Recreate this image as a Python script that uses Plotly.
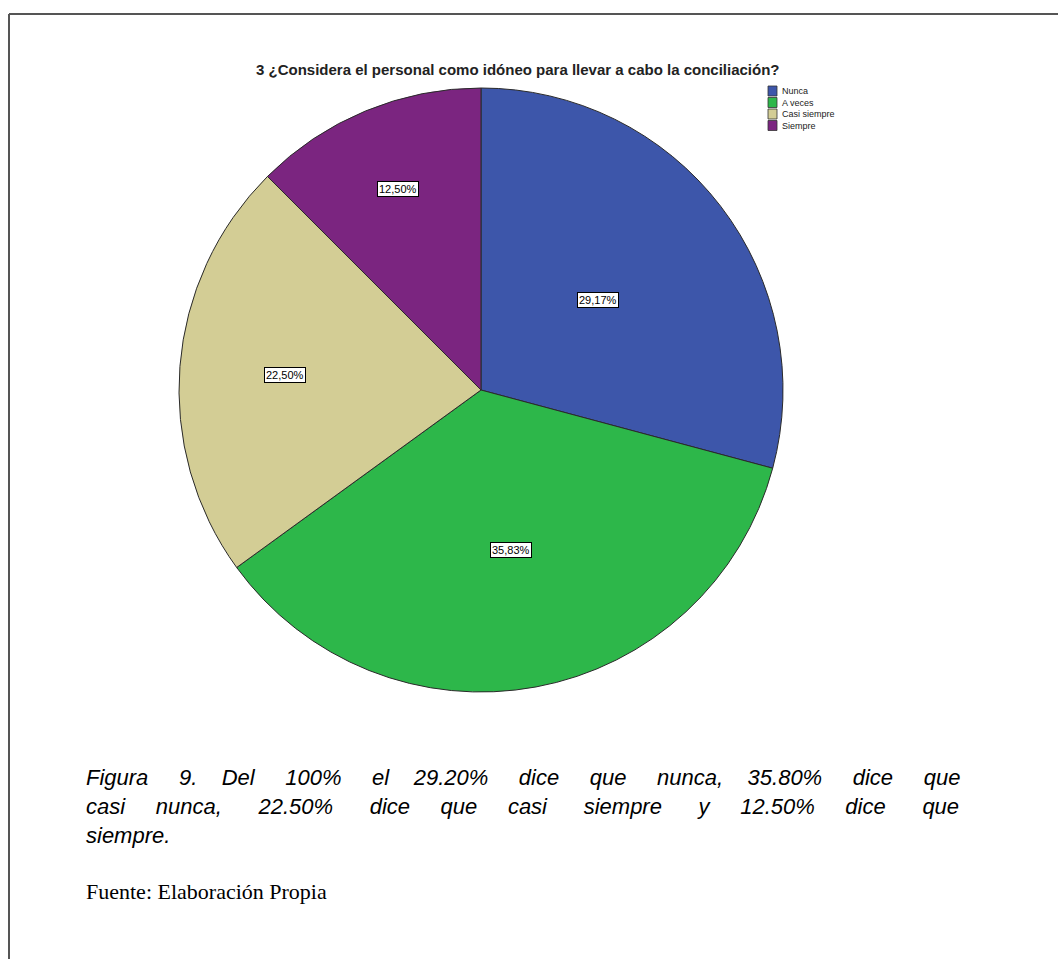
import math
import plotly.graph_objects as go

categories = ["Nunca", "A veces", "Casi siempre", "Siempre"]
percentages = [29.17, 35.83, 22.50, 12.50]
label_texts = ["29,17%", "35,83%", "22,50%", "12,50%"]
colors = ["#3D56AA", "#2DB74A", "#D3CD95", "#7B2580"]

title_text = "3 ¿Considera el personal como idóneo para llevar a cabo la conciliación?"
caption_lines = [
    "Figura 9. Del 100% el 29.20% dice que nunca, 35.80% dice que",
    "casi nunca, 22.50% dice que casi siempre y 12.50% dice que",
    "siempre.",
]
source_text = "Fuente: Elaboración Propia"

W, H = 1058, 959
cx, cy, r = 481, 390, 302
label_radius_factor = [0.49, 0.54, 0.65, 0.72]
# extra non-breaking spaces per gap to mimic justified text
justify_extra = [3.7, 4.5, 0]


def justify(line, extra):
    words = line.split(" ")
    if extra == 0 or len(words) < 2:
        return line
    out = words[0]
    acc = 0.0
    for i, w in enumerate(words[1:], start=1):
        target = round(extra * i)
        n = target - round(acc)
        acc = extra * i
        out += " " + "&nbsp;" * n + w
    return out


fig = go.Figure()
fig.add_trace(go.Pie(
    labels=categories,
    values=percentages,
    sort=False,
    direction="clockwise",
    rotation=0,
    marker=dict(colors=colors, line=dict(color="#2a2a2a", width=1)),
    textinfo="none",
    hoverinfo="label+percent",
    domain=dict(x=[(cx - r) / W, (cx + r) / W], y=[1 - (cy + r) / H, 1 - (cy - r) / H]),
    showlegend=False,
))

annotations = []
total = sum(percentages)
cum = 0.0
for val, txt, f in zip(percentages, label_texts, label_radius_factor):
    mid = (cum + val / 2) / total * 2 * math.pi
    cum += val
    px = cx + math.sin(mid) * r * f
    py = cy - math.cos(mid) * r * f
    annotations.append(dict(
        x=px / W, y=1 - py / H, xref="paper", yref="paper",
        xanchor="center", yanchor="middle",
        text=txt, showarrow=False,
        font=dict(family="Liberation Sans, Arial", size=11, color="black"),
        bgcolor="white", bordercolor="black", borderwidth=1, borderpad=1,
    ))

# title
annotations.append(dict(
    x=518 / W, y=1 - 69 / H, xref="paper", yref="paper",
    xanchor="center", yanchor="middle",
    text="<b>" + title_text + "</b>", showarrow=False,
    font=dict(family="Liberation Sans, Arial", size=15, color="#222"),
))

# legend
leg_x, leg_y0, leg_dy = 768, 91, 11.5
shapes = []
for i, (cat, col) in enumerate(zip(categories, colors)):
    yy = leg_y0 + i * leg_dy
    shapes.append(dict(type="rect", xref="paper", yref="paper",
                       x0=leg_x / W, x1=(leg_x + 9) / W,
                       y0=1 - (yy + 5) / H, y1=1 - (yy - 5) / H,
                       fillcolor=col, line=dict(color="#333", width=0.8)))
    annotations.append(dict(
        x=(leg_x + 12) / W, y=1 - yy / H, xref="paper", yref="paper",
        xanchor="left", yanchor="middle",
        text=cat, showarrow=False,
        font=dict(family="Liberation Sans, Arial", size=9, color="#222"),
    ))

# caption
for i, (line, ex) in enumerate(zip(caption_lines, justify_extra)):
    annotations.append(dict(
        x=84 / W, y=1 - (777 + i * 29) / H, xref="paper", yref="paper",
        xanchor="left", yanchor="middle",
        text="<i>" + justify(line, ex) + "</i>", showarrow=False,
        font=dict(family="Liberation Sans, Arial", size=22, color="black"),
    ))

annotations.append(dict(
    x=84 / W, y=1 - 891 / H, xref="paper", yref="paper",
    xanchor="left", yanchor="middle",
    text=source_text, showarrow=False,
    font=dict(family="Liberation Serif, Times New Roman", size=22, color="black"),
))

# frame
shapes.append(dict(type="line", xref="paper", yref="paper",
                   x0=9 / W, x1=9 / W, y0=0, y1=1 - 14 / H,
                   line=dict(color="#555", width=2)))
shapes.append(dict(type="line", xref="paper", yref="paper",
                   x0=9 / W, x1=1, y0=1 - 14 / H, y1=1 - 14 / H,
                   line=dict(color="#555", width=2)))

fig.update_layout(
    width=W, height=H,
    margin=dict(l=0, r=0, t=0, b=0),
    paper_bgcolor="white", plot_bgcolor="white",
    annotations=annotations, shapes=shapes,
)

fig.write_html("out.html")
